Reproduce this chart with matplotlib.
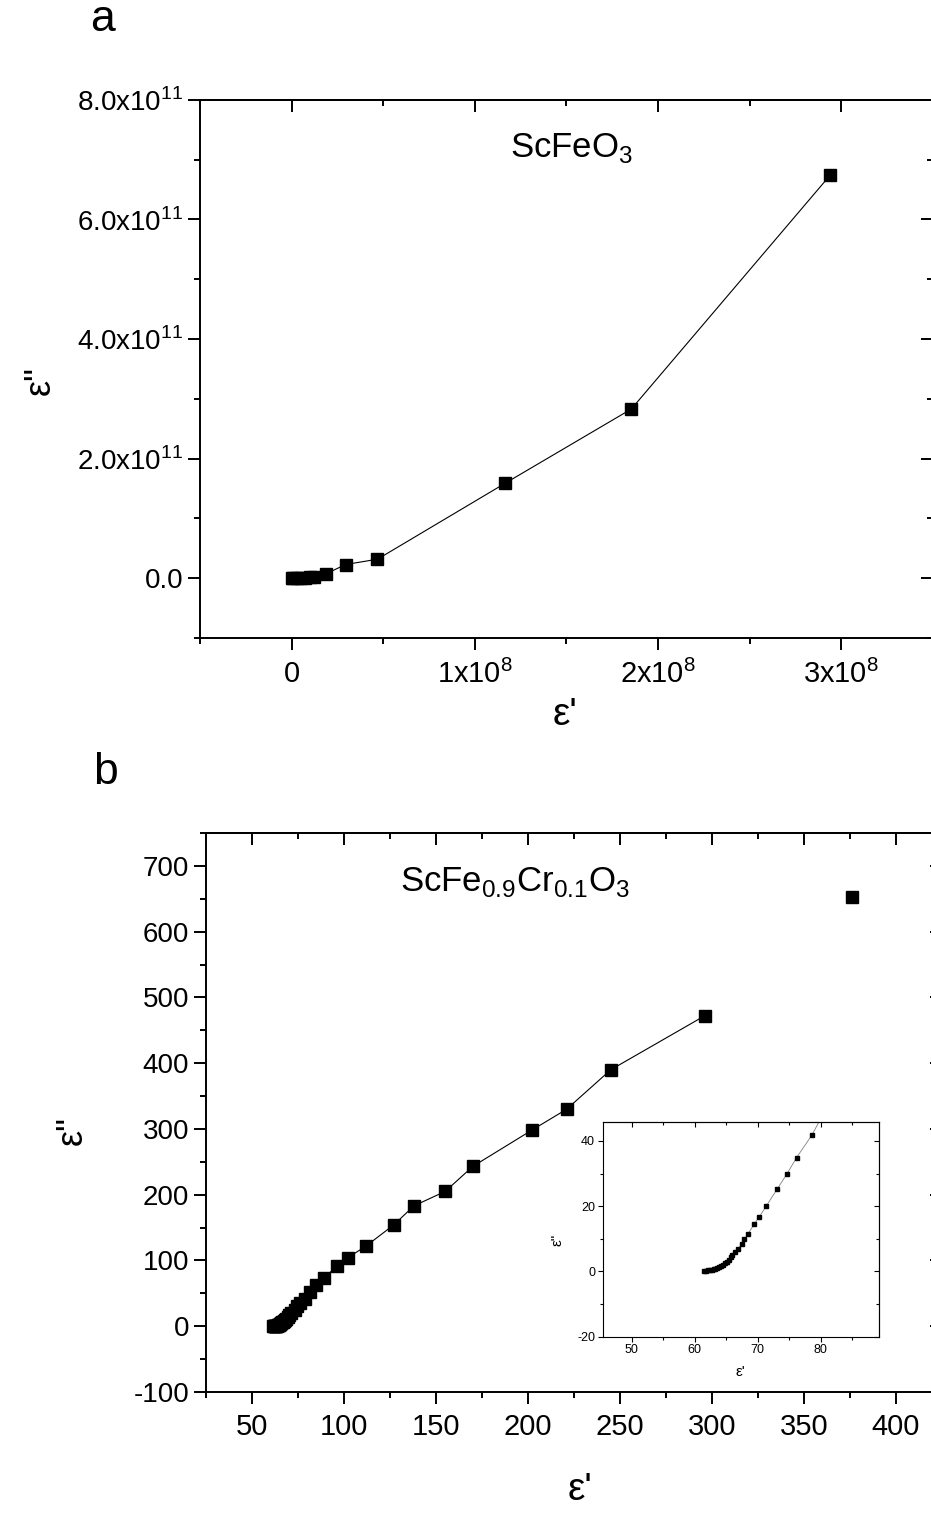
import matplotlib.pyplot as plt
from matplotlib.ticker import MultipleLocator

# panel a: ScFeO3 (eps' in 1e8, eps'' in 1e11)
a_eps1 = [0.0, 0.01, 0.027, 0.05, 0.073, 0.1, 0.122, 0.187, 0.295, 0.469, 1.167, 1.855, 2.94]
a_eps2 = [0.0, 0.0, 0.002, 0.005, 0.008, 0.015, 0.022, 0.072, 0.229, 0.318, 1.59, 2.83, 6.74]

# panel b: ScFe0.9Cr0.1O3
b_eps1 = [61.5, 61.8, 62.1, 62.4, 62.7, 63.0, 63.3, 63.6, 63.9, 64.2, 64.5, 64.8, 65.1,
          65.4, 65.7, 66.0, 66.4, 66.9, 67.5, 67.9, 68.5, 69.5, 70.3, 71.4, 73.1, 74.7,
          76.2, 78.6, 81.5, 85.0, 89.0, 96.0, 102.0, 112.0, 127.0, 138.0, 155.0, 170.0,
          202.0, 221.0, 245.0, 296.0]
b_eps2 = [0.2, 0.25, 0.3, 0.35, 0.45, 0.6, 0.8, 1.0, 1.3, 1.6, 2.0, 2.5, 3.0,
          3.6, 4.3, 5.0, 6.0, 6.9, 8.5, 9.9, 11.6, 14.6, 16.8, 20.1, 25.2, 30.0,
          34.9, 41.7, 52.0, 63.0, 73.0, 91.0, 104.0, 122.0, 154.0, 183.0, 205.0, 243.0,
          298.0, 330.0, 390.0, 472.0]
b_last_eps1 = [376.0]
b_last_eps2 = [653.0]

a_xticks = [0, 1e8, 2e8, 3e8]
a_xlabels = ['0', r'1x10$^{\mathregular{8}}$', r'2x10$^{\mathregular{8}}$', r'3x10$^{\mathregular{8}}$']
a_yticks = [0, 2e11, 4e11, 6e11, 8e11]
a_ylabels = ['0.0', r'2.0x10$^{\mathregular{11}}$', r'4.0x10$^{\mathregular{11}}$',
             r'6.0x10$^{\mathregular{11}}$', r'8.0x10$^{\mathregular{11}}$']
b_xticks = [50, 100, 150, 200, 250, 300, 350, 400]
b_yticks = [-100, 0, 100, 200, 300, 400, 500, 600, 700]
in_xticks = [50, 60, 70, 80]
in_yticks = [-20, 0, 20, 40]

plt.rcParams['font.family'] = ['Liberation Sans', 'DejaVu Sans']


def frame(ax, xt, xminor, yt, yminor, lw=1.4, maj=8.5, mnr=4.5):
    ax.xaxis.set_minor_locator(MultipleLocator(xminor))
    ax.yaxis.set_minor_locator(MultipleLocator(yminor))
    ax.tick_params(which='both', direction='out', width=lw, top=False, right=False)
    ax.tick_params(which='major', length=maj)
    ax.tick_params(which='minor', length=mnr)
    for s in ax.spines.values():
        s.set_linewidth(lw)
    top = ax.secondary_xaxis('top')
    top.set_xticks(xt)
    top.xaxis.set_minor_locator(MultipleLocator(xminor))
    top.tick_params(which='both', direction='in', labeltop=False, width=lw)
    top.tick_params(which='major', length=maj)
    top.tick_params(which='minor', length=mnr)
    top.spines['top'].set_linewidth(lw)
    right = ax.secondary_yaxis('right')
    right.set_yticks(yt)
    right.yaxis.set_minor_locator(MultipleLocator(yminor))
    right.tick_params(which='both', direction='in', labelright=False, width=lw)
    right.tick_params(which='major', length=maj)
    right.tick_params(which='minor', length=mnr)
    right.spines['right'].set_linewidth(lw)


fig = plt.figure(figsize=(9.31, 15.14), dpi=100)

# ---- panel a
ax1 = fig.add_axes([0.2148, 0.5786, 0.787, 0.3554])
ax1.plot([v * 1e8 for v in a_eps1], [v * 1e11 for v in a_eps2], color='black', lw=0.8,
         marker='s', ms=8, mfc='black', mec='black')
ax1.set_xlim(-0.5e8, 3.5e8)
ax1.set_ylim(-1e11, 8e11)
ax1.set_xticks(a_xticks, a_xlabels, fontsize=21)
ax1.set_yticks(a_yticks, a_ylabels, fontsize=20)
frame(ax1, a_xticks, 0.5e8, a_yticks, 1e11)
ax1.tick_params(axis='x', pad=7)
ax1.text(0.507, 0.911, r'ScFeO$_{\mathregular{3}}$', transform=ax1.transAxes,
         ha='center', va='center', fontsize=25)
fig.text(0.607, 0.5277, "ε'", ha='center', va='center', fontsize=28)
fig.text(0.043, 0.749, 'ε"', ha='center', va='center', fontsize=26, rotation=90)
fig.text(0.1096, 0.9868, 'a', ha='center', va='center', fontsize=32)

# ---- panel b
ax2 = fig.add_axes([0.2213, 0.0806, 0.7905, 0.3692])
ax2.plot(b_eps1, b_eps2, color='black', lw=0.8, marker='s', ms=9, mfc='black', mec='black')
ax2.plot(b_last_eps1, b_last_eps2, ls='none', marker='s', ms=9, mfc='black', mec='black')
ax2.set_xlim(25, 425)
ax2.set_ylim(-100, 750)
ax2.set_xticks(b_xticks, [str(v) for v in b_xticks], fontsize=21)
ax2.set_yticks(b_yticks, [str(v) for v in b_yticks], fontsize=20)
frame(ax2, b_xticks, 25, b_yticks, 50)
ax2.tick_params(axis='x', pad=7)
ax2.text(0.553, 0.4174, r'ScFe$_{\mathregular{0.9}}$Cr$_{\mathregular{0.1}}$O$_{\mathregular{3}}$',
         transform=fig.transFigure, ha='center', va='center', fontsize=25)
fig.text(0.623, 0.0159, "ε'", ha='center', va='center', fontsize=28)
fig.text(0.0773, 0.2536, 'ε"', ha='center', va='center', fontsize=26, rotation=90)
fig.text(0.1128, 0.490, 'b', ha='center', va='center', fontsize=32)

# ---- inset
axi = fig.add_axes([0.6474, 0.1171, 0.2968, 0.1416])
axi.plot(b_eps1, b_eps2, color='#808080', lw=0.6, marker='s', ms=3.3, mfc='black', mec='black')
axi.set_xlim(45.4, 89.3)
axi.set_ylim(-20, 45.7)
axi.set_xticks(in_xticks, [str(v) for v in in_xticks], fontsize=9)
axi.set_yticks(in_yticks, [str(v) for v in in_yticks], fontsize=9)
frame(axi, in_xticks, 5, in_yticks, 10, lw=0.8, maj=3.5, mnr=2)
axi.tick_params(pad=2)
fig.text(557 / 931, 1 - 1240 / 1514, 'ε"', ha='center', va='center', fontsize=11, rotation=90)
fig.text(740 / 931, 1 - 1372 / 1514, "ε'", ha='center', va='center', fontsize=11)

fig.savefig('out.png', dpi=100)
